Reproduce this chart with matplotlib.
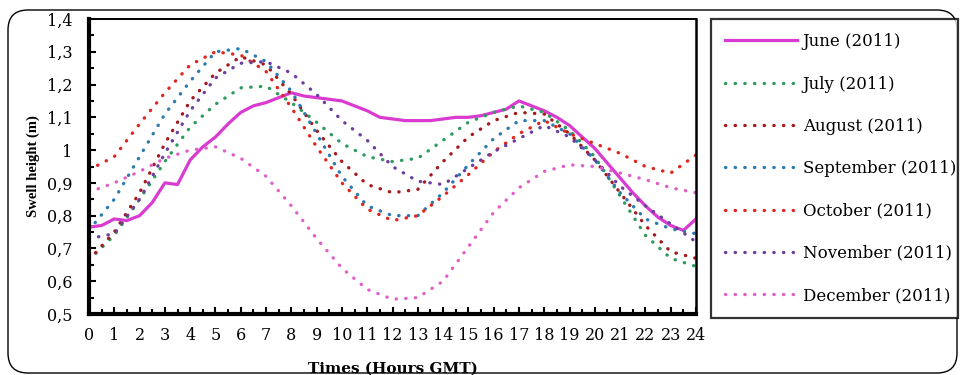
import numpy as np
import matplotlib
matplotlib.use('Agg')
import matplotlib.pyplot as plt
from matplotlib.patches import FancyBboxPatch

# hours of the day
hours = np.arange(0, 25, 1)
hours_half = np.arange(0, 24.5, 0.5)

june = [0.765, 0.77, 0.79, 0.785, 0.80, 0.84, 0.90, 0.895, 0.97, 1.01,
        1.04, 1.08, 1.115, 1.135, 1.145, 1.16, 1.175, 1.165, 1.16, 1.155,
        1.15, 1.135, 1.12, 1.10, 1.095, 1.09, 1.09, 1.09, 1.095, 1.10,
        1.10, 1.105, 1.115, 1.125, 1.15, 1.135, 1.12, 1.10, 1.075, 1.04,
        1.005, 0.96, 0.915, 0.87, 0.83, 0.795, 0.77, 0.755, 0.79]
july = [0.665, 0.74, 0.85, 0.965, 1.07, 1.14, 1.19, 1.195, 1.145, 1.085,
        1.02, 0.98, 0.965, 0.975, 1.03, 1.085, 1.115, 1.135, 1.115, 1.06,
        0.98, 0.86, 0.74, 0.67, 0.645]
august = [0.665, 0.75, 0.87, 1.02, 1.15, 1.235, 1.285, 1.26, 1.17, 1.06,
          0.965, 0.895, 0.87, 0.88, 0.965, 1.04, 1.09, 1.115, 1.11, 1.05,
          0.97, 0.87, 0.77, 0.69, 0.67]
september = [0.756, 0.85, 0.98, 1.11, 1.21, 1.30, 1.31, 1.27, 1.18, 1.05,
             0.92, 0.83, 0.80, 0.80, 0.87, 0.955, 1.035, 1.09, 1.09, 1.05,
             0.97, 0.87, 0.79, 0.76, 0.745]
october = [0.94, 0.98, 1.08, 1.175, 1.26, 1.30, 1.29, 1.24, 1.13, 1.01,
           0.90, 0.82, 0.785, 0.80, 0.86, 0.925, 0.995, 1.05, 1.09, 1.05,
           1.02, 0.99, 0.95, 0.93, 0.985]
november = [0.73, 0.745, 0.85, 0.99, 1.12, 1.22, 1.265, 1.27, 1.235, 1.17,
            1.09, 1.03, 0.95, 0.905, 0.895, 0.945, 0.995, 1.035, 1.075, 1.04,
            0.97, 0.89, 0.83, 0.775, 0.72]
december = [0.872, 0.90, 0.935, 0.975, 1.00, 1.01, 0.975, 0.92, 0.83, 0.73,
            0.64, 0.575, 0.545, 0.55, 0.60, 0.705, 0.81, 0.885, 0.935, 0.955,
            0.95, 0.93, 0.91, 0.885, 0.87]

labels = ['June (2011)', 'July (2011)', 'August (2011)', 'September (2011)',
          'October (2011)', 'November (2011)', 'December (2011)']
colors = ['#D93BD0', '#2E9B5F', '#A3191C', '#2B7BB0', '#E0261E', '#6E3E9E', '#E060C8']
ytick_vals = [0.5, 0.6, 0.7, 0.8, 0.9, 1.0, 1.1, 1.2, 1.3, 1.4]
ytick_labels = ['0,5', '0,6', '0,7', '0,8', '0,9', '1', '1,1', '1,2', '1,3', '1,4']

dotted = (0, (0.1, 2.8))

fig = plt.figure(figsize=(9.6, 3.75), dpi=100)
ax = fig.add_axes([89 / 960, 1 - 314 / 375, (696 - 89) / 960, (314 - 19) / 375])

lines = []
l, = ax.plot(hours_half, june, color=colors[0], lw=2.3, solid_joinstyle='round')
lines.append(l)
for vals, c in zip([july, august, september, october, november, december], colors[1:]):
    l, = ax.plot(hours, vals, color=c, lw=2.4, linestyle=dotted, dash_capstyle='round')
    lines.append(l)

ax.set_xlim(0, 24)
ax.set_ylim(0.5, 1.4)
ax.set_xticks(range(25))
ax.set_xticks(np.arange(0.5, 24, 1), minor=True)
ax.set_yticks(ytick_vals)
ax.set_yticklabels(ytick_labels)
ax.set_yticks(np.arange(0.55, 1.4, 0.1), minor=True)

for t in ax.get_xticklabels() + ax.get_yticklabels():
    t.set_fontfamily('DejaVu Serif')
    t.set_fontsize(11.5)
ax.tick_params(axis='both', which='major', direction='in', length=5, width=1.5, color='black')
ax.tick_params(axis='both', which='minor', direction='in', length=3.5, width=1.5, color='black')
ax.tick_params(axis='y', pad=12)
ax.tick_params(axis='x', pad=9)

ax.spines['left'].set_linewidth(3)
ax.spines['bottom'].set_linewidth(3)
ax.spines['top'].set_linewidth(1.4)
ax.spines['right'].set_linewidth(1.8)

ax.set_xlabel('Times (Hours GMT)', fontfamily='DejaVu Serif', fontweight='bold',
              fontsize=11, labelpad=13)
ax.set_ylabel('Swell height (m)', fontfamily='Liberation Serif', fontweight='bold',
              fontsize=10.5, labelpad=5)

leg = ax.legend(lines, labels, loc='upper left',
                bbox_to_anchor=(711 / 960, 1 - 317 / 375, 247 / 960, 298 / 375),
                bbox_transform=fig.transFigure, mode='expand', borderaxespad=0,
                prop={'family': 'DejaVu Serif', 'size': 12},
                handlelength=4.3, handletextpad=0.35, borderpad=0.85,
                labelspacing=1.52, fancybox=False, frameon=True)
leg.get_frame().set_edgecolor('black')
leg.get_frame().set_linewidth(1.6)

frame = FancyBboxPatch((8, 2), 949, 363, boxstyle='round,pad=0,rounding_size=20',
                       transform=None, facecolor='none', edgecolor='black', lw=1.0,
                       zorder=-1)
fig.add_artist(frame)

fig.savefig('out.png', dpi=100)
